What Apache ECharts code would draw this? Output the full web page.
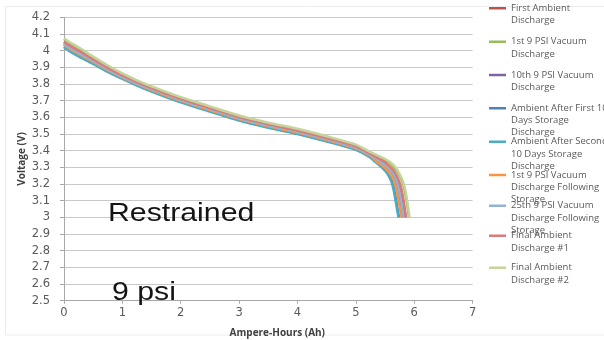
<!DOCTYPE html>
<html>
<head>
<meta charset="utf-8">
<script src="https://cdn.jsdelivr.net/npm/echarts@6/dist/echarts.min.js"></script>
<style>
  html, body { margin: 0; padding: 0; background: #ffffff; }
  #chart { width: 604px; height: 340px; }
</style>
</head>
<body>
<div id="chart"></div>
<script>
// Discharge curves of a restrained cell at 9 psi: voltage (V) against capacity (Ah).
// Each series is a list of [Ampere-Hours, Voltage] samples.

const seriesNames = [
  'First Ambient\nDischarge',
  '1st 9 PSI Vacuum\nDischarge',
  '10th 9 PSI Vacuum\nDischarge',
  'Ambient After First 10\nDays Storage\nDischarge',
  'Ambient After Second\n10 Days Storage\nDischarge',
  '1st 9 PSI Vacuum\nDischarge Following\nStorage',
  '25th 9 PSI Vacuum\nDischarge Following\nStorage',
  'Final Ambient\nDischarge #1',
  'Final Ambient\nDischarge #2'
];

const seriesColors = [
  '#C0504D', '#9BBB59', '#8064A2', '#4F81BD', '#4BACC6',
  '#F79646', '#95B3D7', '#DA7B7B', '#C4D49A'
];

const firstAmbient = [
  [0, 4.05], [0.1, 4.025], [0.25, 3.995], [0.5, 3.944], [0.75, 3.894], [1, 3.848],
  [1.25, 3.808], [1.5, 3.773], [2, 3.708], [2.5, 3.653], [3, 3.598], [3.5, 3.555],
  [4, 3.518], [4.5, 3.473], [5, 3.423], [5.25, 3.378], [5.42, 3.343], [5.52, 3.318],
  [5.62, 3.283], [5.67, 3.258], [5.72, 3.223], [5.77, 3.168], [5.81, 3.093], [5.85, 3.0]
];
const vacuum1st = [
  [0, 4.07], [0.1, 4.045], [0.25, 4.015], [0.5, 3.96], [0.75, 3.908], [1, 3.86],
  [1.25, 3.818], [1.5, 3.782], [2, 3.717], [2.5, 3.662], [3, 3.607], [3.5, 3.564],
  [4, 3.527], [4.5, 3.482], [5, 3.432], [5.25, 3.387], [5.45, 3.352], [5.57, 3.327],
  [5.67, 3.292], [5.73, 3.262], [5.78, 3.227], [5.83, 3.172], [5.87, 3.095], [5.91, 3.0]
];
const vacuum10th = [
  [0, 4.04], [0.1, 4.015], [0.25, 3.985], [0.5, 3.936], [0.75, 3.886], [1, 3.842],
  [1.25, 3.802], [1.5, 3.767], [2, 3.702], [2.5, 3.647], [3, 3.592], [3.5, 3.549],
  [4, 3.512], [4.5, 3.467], [5, 3.417], [5.25, 3.372], [5.38, 3.337], [5.48, 3.312],
  [5.58, 3.277], [5.63, 3.252], [5.68, 3.217], [5.72, 3.162], [5.76, 3.087], [5.8, 3.0]
];
const ambientAfterFirst = [
  [0, 4.025], [0.1, 4.0], [0.25, 3.97], [0.5, 3.924], [0.75, 3.876], [1, 3.833],
  [1.25, 3.794], [1.5, 3.758], [2, 3.693], [2.5, 3.638], [3, 3.583], [3.5, 3.54],
  [4, 3.503], [4.5, 3.458], [5, 3.408], [5.25, 3.362], [5.34, 3.336], [5.42, 3.313],
  [5.52, 3.278], [5.57, 3.252], [5.62, 3.215], [5.66, 3.162], [5.7, 3.082], [5.74, 3.0]
];
const ambientAfterSecond = [
  [0, 4.02], [0.1, 3.995], [0.25, 3.965], [0.5, 3.92], [0.75, 3.872], [1, 3.83],
  [1.25, 3.791], [1.5, 3.755], [2, 3.69], [2.5, 3.635], [3, 3.58], [3.5, 3.537],
  [4, 3.5], [4.5, 3.455], [5, 3.405], [5.25, 3.358], [5.33, 3.333], [5.41, 3.31],
  [5.51, 3.275], [5.56, 3.25], [5.61, 3.213], [5.65, 3.16], [5.69, 3.08], [5.73, 3.0]
];
const vacuum1stAfterStorage = [
  [0, 4.035], [0.1, 4.01], [0.25, 3.98], [0.5, 3.932], [0.75, 3.883], [1, 3.839],
  [1.25, 3.8], [1.5, 3.764], [2, 3.699], [2.5, 3.644], [3, 3.589], [3.5, 3.546],
  [4, 3.509], [4.5, 3.464], [5, 3.414], [5.25, 3.369], [5.36, 3.334], [5.46, 3.309],
  [5.56, 3.274], [5.61, 3.249], [5.66, 3.214], [5.7, 3.159], [5.74, 3.084], [5.78, 3.0]
];
const vacuum25thAfterStorage = [
  [0, 4.042], [0.1, 4.017], [0.25, 3.987], [0.5, 3.938], [0.75, 3.888], [1, 3.843],
  [1.25, 3.803], [1.5, 3.769], [2, 3.704], [2.5, 3.649], [3, 3.594], [3.5, 3.551],
  [4, 3.514], [4.5, 3.469], [5, 3.419], [5.25, 3.374], [5.4, 3.34], [5.5, 3.314],
  [5.6, 3.28], [5.65, 3.254], [5.7, 3.22], [5.74, 3.164], [5.78, 3.09], [5.82, 3.0]
];
const finalAmbient1 = [
  [0, 4.055], [0.1, 4.03], [0.25, 4.0], [0.5, 3.948], [0.75, 3.897], [1, 3.851],
  [1.25, 3.811], [1.5, 3.776], [2, 3.711], [2.5, 3.656], [3, 3.601], [3.5, 3.558],
  [4, 3.521], [4.5, 3.476], [5, 3.426], [5.25, 3.381], [5.43, 3.346], [5.53, 3.321],
  [5.63, 3.286], [5.68, 3.261], [5.73, 3.226], [5.78, 3.171], [5.82, 3.096], [5.86, 3.0]
];
const finalAmbient2 = [
  [0, 4.075], [0.1, 4.05], [0.25, 4.02], [0.5, 3.964], [0.75, 3.911], [1, 3.863],
  [1.25, 3.822], [1.5, 3.786], [2, 3.721], [2.5, 3.666], [3, 3.611], [3.5, 3.568],
  [4, 3.531], [4.5, 3.486], [5, 3.436], [5.25, 3.391], [5.47, 3.356], [5.59, 3.331],
  [5.69, 3.296], [5.74, 3.266], [5.79, 3.231], [5.84, 3.176], [5.88, 3.098], [5.92, 3.0]
];

const seriesData = [
  firstAmbient, vacuum1st, vacuum10th, ambientAfterFirst, ambientAfterSecond,
  vacuum1stAfterStorage, vacuum25thAfterStorage, finalAmbient1, finalAmbient2
];

// Vertical position of each legend entry's first text line
const legendLineY = [8.3, 41.7, 75, 108.3, 141.7, 175, 205.7, 235.7, 267.7];

const LEGEND_LINE_H = 12.2;
const LEGEND_ICON_W = 17;

function legendIcon(h) {
  // short coloured bar beside the first text line; tiny end points stretch the box to the text height
  const c = LEGEND_LINE_H / 2;
  return 'path://M0,0L0.01,0M0,' + (c - 1.25) + 'L' + LEGEND_ICON_W + ',' + (c - 1.25) +
    'L' + LEGEND_ICON_W + ',' + (c + 1.25) + 'L0,' + (c + 1.25) + 'ZM0,' + h + 'L0.01,' + h;
}

const legends = seriesNames.map(function (name, i) {
  const lines = name.split('\n').length;
  const h = lines * LEGEND_LINE_H;
  return {
    data: [name],
    left: 489,
    top: legendLineY[i] - LEGEND_LINE_H / 2,
    orient: 'vertical',
    padding: 0,
    itemGap: 0,
    itemWidth: LEGEND_ICON_W,
    itemHeight: h,
    icon: legendIcon(h),
    symbolKeepAspect: false,
    selectedMode: false,
    itemStyle: { borderWidth: 0 },
    textStyle: {
      fontFamily: '"Open Sans"',
      fontSize: 9.5,
      lineHeight: LEGEND_LINE_H,
      color: '#5a5a5a'
    }
  };
});

const chart = echarts.init(document.getElementById('chart'), null, { renderer: 'canvas' });

chart.setOption({
  backgroundColor: '#ffffff',
  animation: false,
  grid: {
    left: 64, right: 131.4, top: 17.3, bottom: 39.3,
    containLabel: false,
    outerBoundsMode: 'none'
  },
  legend: legends,
  xAxis: {
    type: 'value',
    min: 0,
    max: 7,
    interval: 1,
    name: 'Ampere-Hours (Ah)',
    nameLocation: 'middle',
    nameGap: 27,
    nameMoveOverlap: false,
    nameTextStyle: {
      fontFamily: '"Open Sans"',
      fontWeight: 'bold',
      fontSize: 10,
      color: '#404040',
      padding: [0, 0, 0, 18]
    },
    axisLine: { lineStyle: { color: '#a8a8a8', width: 1 } },
    axisTick: { show: true, length: 3, lineStyle: { color: '#a8a8a8' } },
    axisLabel: {
      margin: 6,
      fontFamily: '"DejaVu Sans"',
      fontSize: 11.5,
      color: '#5a5a5a'
    },
    splitLine: { show: false }
  },
  yAxis: {
    type: 'value',
    min: 2.5,
    max: 4.2,
    interval: 0.1,
    name: 'Voltage (V)',
    nameLocation: 'middle',
    nameGap: 37,
    nameMoveOverlap: false,
    nameRotate: 90,
    nameTextStyle: {
      fontFamily: '"Open Sans"',
      fontWeight: 'bold',
      fontSize: 10,
      color: '#404040'
    },
    axisLine: { show: true, lineStyle: { color: '#a8a8a8', width: 1 } },
    axisTick: { show: true, length: 4, lineStyle: { color: '#a8a8a8' } },
    axisLabel: {
      margin: 14,
      fontFamily: '"DejaVu Sans"',
      fontSize: 11.5,
      color: '#5a5a5a'
    },
    splitLine: { show: true, lineStyle: { color: '#c8c8c8', width: 1 } }
  },
  graphic: [
    {
      type: 'rect',
      z: -10,
      silent: true,
      shape: { x: 5.5, y: 6.5, width: 700, height: 328.5 },
      style: { fill: 'none', stroke: '#ececec', lineWidth: 1 }
    },
    {
      type: 'text',
      x: 108,
      y: 214,
      scaleX: 1.21,
      z: 50,
      style: {
        text: 'Restrained',
        font: '25px "Liberation Sans"',
        fill: '#141414',
        verticalAlign: 'middle'
      }
    },
    {
      type: 'text',
      x: 112,
      y: 293,
      scaleX: 1.21,
      z: 50,
      style: {
        text: '9 psi',
        font: '25px "Liberation Sans"',
        fill: '#141414',
        verticalAlign: 'middle'
      }
    }
  ],
  series: seriesNames.map(function (name, i) {
    return {
      name: name,
      type: 'line',
      data: seriesData[i],
      showSymbol: false,
      symbol: 'none',
      smooth: 0.25,
      color: seriesColors[i],
      lineStyle: { width: 2.5, color: seriesColors[i] }
    };
  })
});
</script>
</body>
</html>
